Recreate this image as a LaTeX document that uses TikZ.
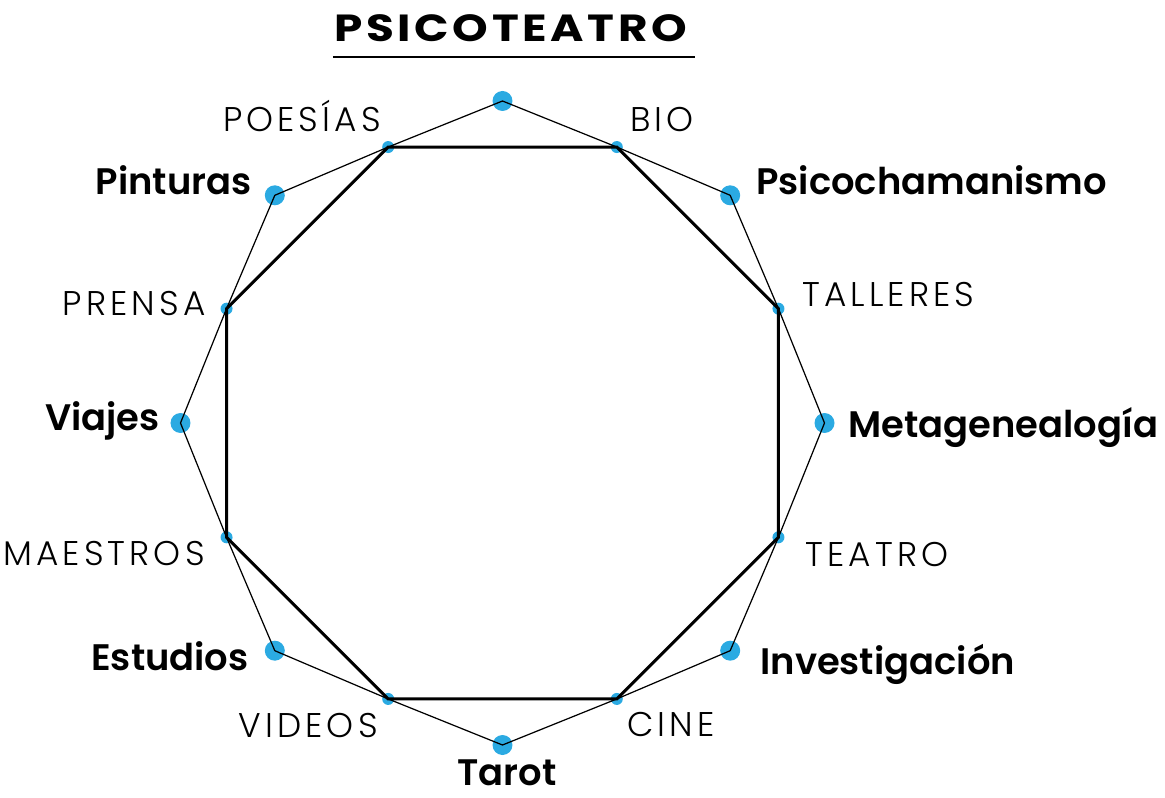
\documentclass[tikz,border=0pt]{standalone}
\usepackage{fontspec}
\setmainfont{Poppins}
\newfontfamily\lightfont{Poppins Light}[LetterSpace=12]
\newfontfamily\heavyfont{Poppins SemiBold}
\newfontfamily\titlefont{Poppins Bold}[LetterSpace=8]
\usetikzlibrary{positioning}
\definecolor{Sky}{HTML}{2BAAE2}

\begin{document}
\begin{tikzpicture}[x=0.02cm, y=0.02cm,
  bigdot/.style={circle, fill=Sky, inner sep=0pt, minimum size=0.4cm},
  smalldot/.style={circle, fill=Sky, inner sep=0pt, minimum size=0.24cm},
  outline/.style={line width=0.7pt, line join=miter},
  frame/.style={line width=1.7pt, line join=miter},
  lablight/.style={font=\lightfont\fontsize{19.5}{22}\selectfont, inner sep=0pt},
  labbold/.style={font=\heavyfont\fontsize{21}{25}\selectfont, inner sep=0pt}]
  \useasboundingbox (-502.5,-374) rectangle (662.5,423);
  % Dots
  \foreach \i in {0,...,7} {
    \node[bigdot] (b\i) at (90-45*\i:322) {};
    \node[smalldot] (s\i) at (67.5-45*\i:298.7) {};
  }
  % Outer line
  \draw[outline] (b0.center)
    \foreach \i/\j in {0/1,1/2,2/3,3/4,4/5,5/6,6/7} { -- (s\i.center) -- (b\j.center) }
    -- (s7.center) -- cycle;
  % Octagon
  \draw[frame] (s0.center) \foreach \i in {1,...,7} { -- (s\i.center) } -- cycle;
  % Title
  \node[inner sep=0pt, xscale=1.2, transform shape,
    font=\titlefont\fontsize{21.5}{25}\selectfont] (title) at (8,395) {PSICOTEATRO};
  \coordinate (ulA) at (-169.5,366);
  \coordinate (ulB) at (192.5,366);
  \draw[line width=0.8pt] (ulA) -- (ulB);
  % Labels
  \node[lablight, anchor=base east] (poesias) at (-121.5,291) {POESÍAS};
  \node[lablight, anchor=base west] (bio) at (127.5,291) {BIO};
  \node[labbold, anchor=base east] (pinturas) at (-250.5,228) {Pinturas};
  \node[labbold, anchor=base west] (psico) at (253.5,228) {Psicochamanismo};
  \node[lablight, anchor=base east] (prensa) at (-296.5,107) {PRENSA};
  \node[lablight, anchor=base west] (talleres) at (299.5,116) {TALLERES};
  \node[labbold, anchor=base east] (viajes) at (-342.5,-8) {Viajes};
  \node[labbold, anchor=base west] (meta) at (345.5,-14) {Metagenealogía};
  \node[lablight, anchor=base east] (maestros) at (-297.5,-142) {MAESTROS};
  \node[lablight, anchor=base west] (teatro) at (302.5,-143) {TEATRO};
  \node[labbold, anchor=base east] (estudios) at (-253.5,-247) {Estudios};
  \node[labbold, anchor=base west] (invest) at (257.5,-251) {Investigación};
  \node[lablight, anchor=base east] (videos) at (-124.5,-314) {VIDEOS};
  \node[lablight, anchor=base west] (cine) at (124.5,-313) {CINE};
  \node[labbold, anchor=base] (tarot) at (4.5,-362) {Tarot};
\end{tikzpicture}
\end{document}
